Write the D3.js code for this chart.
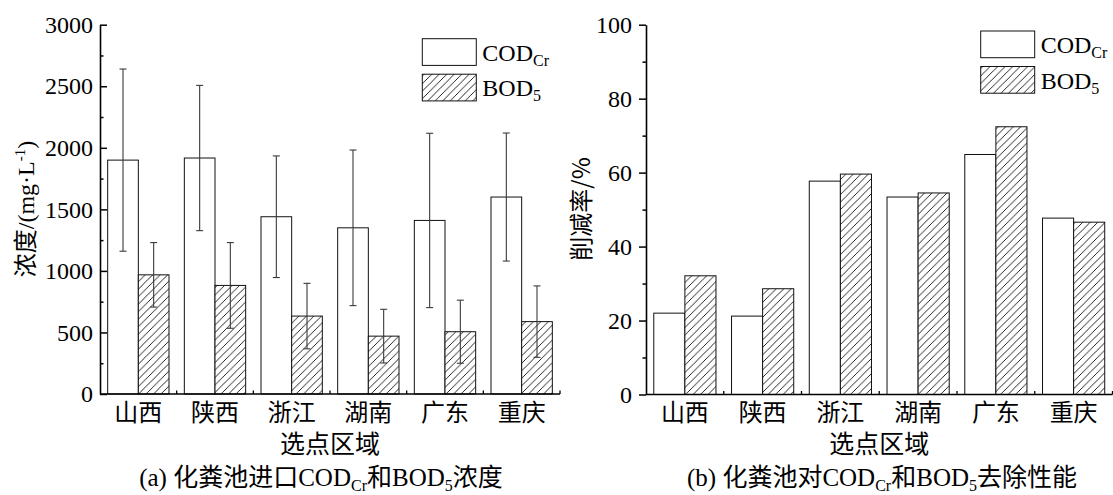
<!DOCTYPE html>
<html><head><meta charset="utf-8">
<script src="https://cdn.jsdelivr.net/npm/d3@7"></script>
<style>
body{margin:0;background:#fff;}
svg{display:block;}
</style></head>
<body>
<svg id="chart" width="1113" height="495"></svg>
<script>
const categories = ["山西","陕西","浙江","湖南","广东","重庆"];
const seriesNames = ["COD","BOD"];
// (a) inlet concentration, mg/L
const codConc = [1900, 1917, 1440, 1350, 1410, 1600];
const codErr  = [740, 590, 494, 632, 708, 520];
const bodConc = [968, 882, 633, 470, 506, 588];
const bodErr  = [262, 348, 266, 218, 256, 290];
// (b) removal rate, %
const codRemoval = [22.0, 21.2, 57.7, 53.4, 64.9, 47.7];
const bodRemoval = [32.1, 28.6, 59.6, 54.5, 72.4, 46.6];
const leftTicks = [0,500,1000,1500,2000,2500,3000];
const leftMinor = [250,750,1250,1750,2250,2750];
const rightTicks = [0,20,40,60,80,100];
const rightMinor = [10,30,50,70,90];

const SERIF = "'Liberation Serif','Times New Roman',serif";
const CJK = "'Noto Sans CJK SC','Noto Sans',sans-serif";

const svg = d3.select("#chart");
const defs = svg.append("defs");
const pat = defs.append("pattern").attr("id","hatch").attr("patternUnits","userSpaceOnUse")
  .attr("width",7.5).attr("height",7.5);
pat.append("rect").attr("width",7.5).attr("height",7.5).attr("fill","#fff");
pat.append("path").attr("d","M-2,2 L2,-2 M0,7.5 L7.5,0 M5.5,9.5 L9.5,5.5")
  .attr("stroke","#000").attr("stroke-width",0.85);

function drawChart(cfg){
  const g = svg.append("g");
  const x = d3.scaleBand().domain(categories).range([cfg.x0, cfg.x1]).padding(0);
  const xs = d3.scaleBand().domain(seriesNames).range([0, x.bandwidth()]).paddingInner(0).paddingOuter(0.25);
  const y = d3.scaleLinear().domain(cfg.domain).range([cfg.y0, cfg.y1]);

  const data = [];
  categories.forEach((c,i)=>{
    data.push({c, s:"COD", v:cfg.cod[i], e: cfg.codErr ? cfg.codErr[i] : null});
    data.push({c, s:"BOD", v:cfg.bod[i], e: cfg.bodErr ? cfg.bodErr[i] : null});
  });

  g.selectAll("rect.bar").data(data).join("rect").attr("class","bar")
    .attr("x", d=>x(d.c)+xs(d.s)).attr("width", xs.bandwidth())
    .attr("y", d=>y(d.v)).attr("height", d=>y(0)-y(d.v))
    .attr("fill", d=> d.s==="COD" ? "#fff" : "url(#hatch)")
    .attr("stroke","#111").attr("stroke-width",1);

  // error bars
  const eb = data.filter(d=>d.e!=null);
  const cx = d=>x(d.c)+xs(d.s)+xs.bandwidth()/2;
  const eg = g.selectAll("g.eb").data(eb).join("g").attr("class","eb")
    .attr("stroke","#3a3a3a").attr("stroke-width",1.1);
  eg.append("line").attr("x1",cx).attr("x2",cx)
    .attr("y1",d=>y(d.v+d.e)).attr("y2",d=>y(d.v-d.e));
  eg.append("line").attr("x1",d=>cx(d)-3.5).attr("x2",d=>cx(d)+3.5)
    .attr("y1",d=>y(d.v+d.e)).attr("y2",d=>y(d.v+d.e));
  eg.append("line").attr("x1",d=>cx(d)-3.5).attr("x2",d=>cx(d)+3.5)
    .attr("y1",d=>y(d.v-d.e)).attr("y2",d=>y(d.v-d.e));

  // y axis
  const ya = g.append("g").attr("transform",`translate(${cfg.x0},0)`)
    .call(d3.axisLeft(y).tickValues(cfg.ticks).tickSize(cfg.tickDir*7).tickSizeOuter(0).tickPadding(7).tickFormat(d3.format("d")));
  ya.select(".domain").attr("stroke-width",1.6).attr("stroke","#000");
  ya.selectAll(".tick line").attr("stroke-width",1.5);
  ya.selectAll("text").attr("font-family",SERIF).attr("font-size",24).attr("fill","#000");
  const ym = g.append("g").attr("transform",`translate(${cfg.x0},0)`)
    .call(d3.axisLeft(y).tickValues(cfg.minor).tickSize(cfg.tickDir*3.5).tickSizeOuter(0).tickFormat(""));
  ym.select(".domain").remove();
  ym.selectAll(".tick line").attr("stroke-width",1.5);

  // x axis
  g.append("line").attr("x1",cfg.x0).attr("x2",cfg.x1).attr("y1",y(0)).attr("y2",y(0))
    .attr("stroke","#000").attr("stroke-width",1.6);
  g.selectAll("line.xt").data(categories).join("line").attr("class","xt")
    .attr("x1",d=>x(d)+x.bandwidth()).attr("x2",d=>x(d)+x.bandwidth())
    .attr("y1",y(0)).attr("y2",y(0)-3.5).attr("stroke","#000").attr("stroke-width",1.3);
  g.selectAll("text.xl").data(categories).join("text").attr("class","xl")
    .attr("x",d=>x(d)+x.bandwidth()/2).attr("y",413).attr("dy","0.35em")
    .attr("text-anchor","middle").attr("font-family",CJK).attr("font-size",24).text(d=>d);
  g.append("text").attr("x",(cfg.x0+cfg.x1)/2).attr("y",444.5).attr("dy","0.35em")
    .attr("text-anchor","middle").attr("font-family",CJK).attr("font-size",25).text("选点区域");

  // legend
  const lg = g.append("g").attr("transform",`translate(${cfg.legX},${cfg.legY})`);
  [["COD","Cr","#fff"],["BOD","5","url(#hatch)"]].forEach((it,i)=>{
    const yy = i*35.5;
    lg.append("rect").attr("x",0).attr("y",yy).attr("width",54).attr("height",26.7)
      .attr("fill",it[2]).attr("stroke","#111").attr("stroke-width",1);
    const t = lg.append("text").attr("x",60).attr("y",yy+22).attr("font-family",SERIF).attr("font-size",24);
    t.append("tspan").text(it[0]);
    t.append("tspan").attr("font-size",16).attr("dy",5).text(it[1]);
  });

  // caption
  const cap = g.append("text").attr("x",cfg.capX).attr("y",486).attr("text-anchor","middle")
    .attr("font-size",25);
  cfg.caption.forEach(p=>{
    const ts = cap.append("tspan").attr("font-family",p.cjk?CJK:SERIF).text(p.t);
    if(p.sub){ ts.attr("font-size",16).attr("dy",5); }
    if(p.after){ ts.attr("dy",-5); }
  });
  return {g,y};
}

const A = drawChart({x0:100, x1:560, y0:394, y1:24.7, domain:[0,3000],
  cod:codConc, bod:bodConc, codErr, bodErr, ticks:leftTicks, minor:leftMinor, tickDir:-1,
  legX:422.3, legY:38.7, capX:321,
  caption:[{t:"(a) "},{t:"化粪池进口",cjk:1},{t:"COD"},{t:"Cr",sub:1},{t:"和",cjk:1,after:1},{t:"BOD"},{t:"5",sub:1},{t:"浓度",cjk:1,after:1}]});

const B = drawChart({x0:646, x1:1112.5, y0:394.5, y1:24.7, domain:[0,100],
  cod:codRemoval, bod:bodRemoval, ticks:rightTicks, minor:rightMinor, tickDir:1,
  legX:980.7, legY:31, capX:882,
  caption:[{t:"(b) "},{t:"化粪池对",cjk:1},{t:"COD"},{t:"Cr",sub:1},{t:"和",cjk:1,after:1},{t:"BOD"},{t:"5",sub:1},{t:"去除性能",cjk:1,after:1}]});

// y axis titles
const yt1 = svg.append("text").attr("transform","translate(34,209) rotate(-90)")
  .attr("text-anchor","middle").attr("font-size",24);
yt1.append("tspan").attr("font-family",CJK).text("浓度");
yt1.append("tspan").attr("font-family",SERIF).text("/(mg·L");
yt1.append("tspan").attr("font-family",SERIF).attr("font-size",15).attr("dy",-9).text("-1");
yt1.append("tspan").attr("font-family",SERIF).attr("dy",9).text(")");

svg.append("text").attr("transform","translate(590,209) rotate(-90)")
  .attr("text-anchor","middle").attr("font-size",24).attr("font-family",CJK).text("削减率/%");
</script>
</body></html>
